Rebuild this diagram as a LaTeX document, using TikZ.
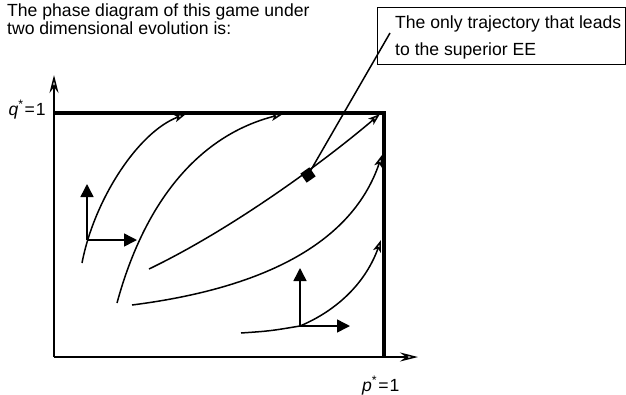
\documentclass[tikz,border=0pt]{standalone}
\usepackage{fontspec}
\setmainfont{Liberation Sans}
\usetikzlibrary{arrows.meta}

\begin{document}
\begin{tikzpicture}[x=1pt,y=-1pt,
  every node/.style={font=\fontsize{17.6}{20}\selectfont,inner sep=0pt},
  axis/.style={line width=1.5pt,-{Stealth[open,length=18pt,width=9pt,inset=6pt]}},
  border/.style={line width=4pt},
  traj/.style={line width=1.5pt,-{Stealth[open,length=12pt,width=8pt,inset=3pt]}},
  flow/.style={line width=1.5pt,-{Triangle[length=13pt,width=13pt]}}]
\useasboundingbox (0,0) rectangle (626,394);
% heading
\node[anchor=base west] (title1) at (7,16) {The phase diagram of this game under};
\node[anchor=base west] (title2) at (7,34.5) {two dimensional evolution is:};
% callout
\node[draw,line width=1.2pt,minimum width=248pt,minimum height=57pt,
  anchor=north west] (note) at (377,7) {};
\node[anchor=base west] (note1) at (395,28) {The only trajectory that leads};
\node[anchor=base west] (note2) at (395,55) {to the superior EE};
% axes
\coordinate (O) at (54,357);
\coordinate (xend) at (418,357);
\coordinate (yend) at (54,75);
\coordinate (qtop) at (54,113);
\coordinate (corner) at (384,113);
\coordinate (pone) at (384,357);
\draw[axis] (O) -- (xend);
\draw[axis] (O) -- (yend);
\draw[border] (qtop) -- (corner) -- (pone);
\node[anchor=base east] (qlab) at (46,115) {\textit{q}\textsuperscript{*}\kern1pt=\kern1pt1};
\node[anchor=base west] (plab) at (362,391) {\textit{p}\textsuperscript{*}\kern1pt=\kern1pt1};
% trajectories
\draw[traj] (82,263) .. controls (94,200) and (138,132) .. (186,114);
\draw[traj] (117,303) .. controls (145,200) and (200,135) .. (283,114);
\draw[traj] (149,269) .. controls (230,230) and (320,165) .. (380,114);
\draw[traj] (132,305) .. controls (250,290) and (350,250) .. (382,155);
\draw[traj] (241,333) .. controls (270,331) .. (300,326)
  .. controls (338,310) and (366,282) .. (381,240);
% superior EE marker
\node[fill,minimum size=11pt,rotate=35] (ee) at (308,175) {};
\coordinate (lead) at (390,33);
\draw[line width=1.5pt] (ee.center) -- (lead);
% direction of motion
\coordinate (va) at (87,240);
\coordinate (vaup) at (87,184);
\coordinate (varight) at (137,240);
\draw[flow] (va) -- (vaup);
\draw[flow] (va) -- (varight);
\coordinate (vb) at (300,326);
\coordinate (vbup) at (300,268);
\coordinate (vbright) at (350,326);
\draw[flow] (vb) -- (vbup);
\draw[flow] (vb) -- (vbright);
\end{tikzpicture}
\end{document}
